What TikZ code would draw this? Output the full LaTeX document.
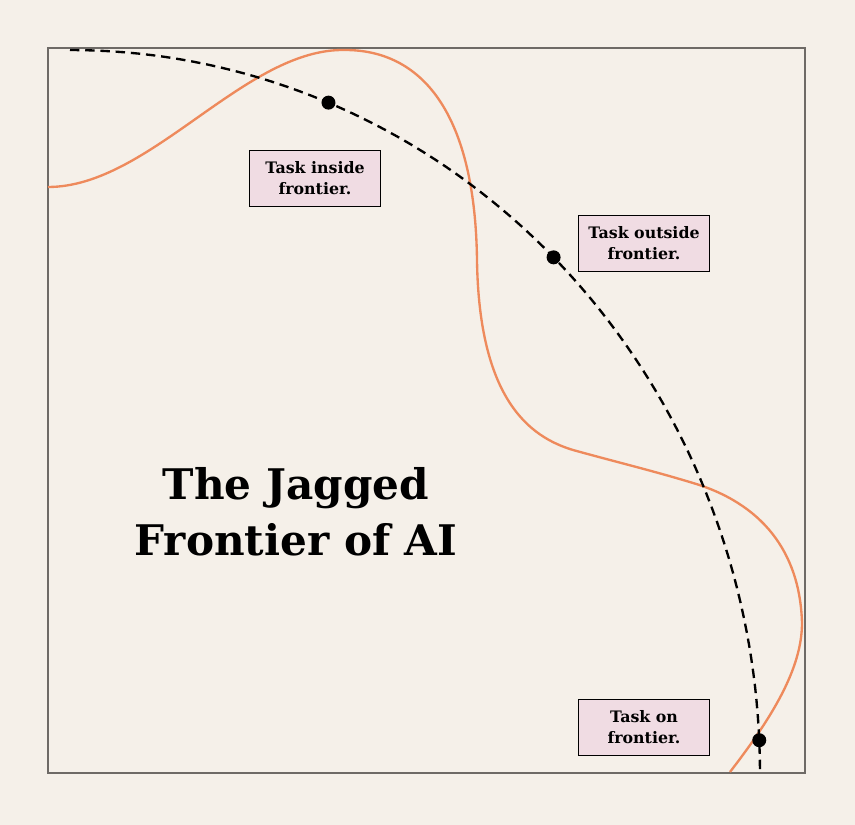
\documentclass[tikz,border=0pt]{standalone}
\usepackage{fontspec}
\setmainfont{DejaVu Serif}

\definecolor{bgcream}{HTML}{F5F0E9}
\definecolor{framegray}{HTML}{6E6A66}
\definecolor{jagorange}{HTML}{EE8A5C}
\definecolor{taskpink}{HTML}{F0DCE3}

\begin{document}
\begin{tikzpicture}
[
	x 				= 0.03cm,
	y 				= -0.03cm, % pixel grid, y grows downwards
	task/.style 	=
	{
		draw 			= black,
		line width		= 0.7pt,
		fill 			= taskpink,
		minimum width	= 3.93cm,
		minimum height	= 1.68cm,
		align 			= center,
		font 			= \bfseries\fontsize{13.5}{18.5}\selectfont,
	},
	dot/.style 		=
	{
		circle,
		fill 			= black,
		inner sep		= 0pt,
		minimum size	= 0.42cm,
	},
]

% background and frame
\fill [bgcream] (0,0) rectangle (855,825);
\draw [framegray, line width = 0.9pt] (48,48) rectangle (805,773);

% the jagged frontier
\draw [jagorange, line width = 2pt]
	(48,187)  .. controls (150,187) and (245,48)  .. (345,50)
	          .. controls (420,50)  and (475,110) .. (477,260)
	          .. controls (479,400) and (530,437) .. (573,450)
	          .. controls (620,463) and (650,470) .. (693,483)
	          .. controls (760,503) and (800,550) .. (802,623)
	          .. controls (802,670) and (770,720) .. (730,772);

% the smooth frontier
\draw [line width = 2pt, dash pattern = on 8pt off 5pt]
	plot [domain = 90:0, samples = 80] ({70+690*cos(\x)}, {773-723*sin(\x)});

% tasks on the smooth frontier
\node [dot] (inside)  at ({70+690*cos(68)},  {773-723*sin(68)})  {};
\node [dot] (outside) at ({70+690*cos(45.5)},{773-723*sin(45.5)}) {};
\node [dot] (on)      at ({70+690*cos(2.6)}, {773-723*sin(2.6)})  {};

\node [task] (inside label)  at (315,178) {Task inside\\frontier.};
\node [task] (outside label) at (644,243) {Task outside\\frontier.};
\node [task] (on label)      at (644,727) {Task on\\frontier.};

% title
\node [align = center, font = \bfseries\fontsize{36}{47.6}\selectfont] (title)
	at (296,512) {The Jagged\\Frontier of AI};

\end{tikzpicture}
\end{document}
